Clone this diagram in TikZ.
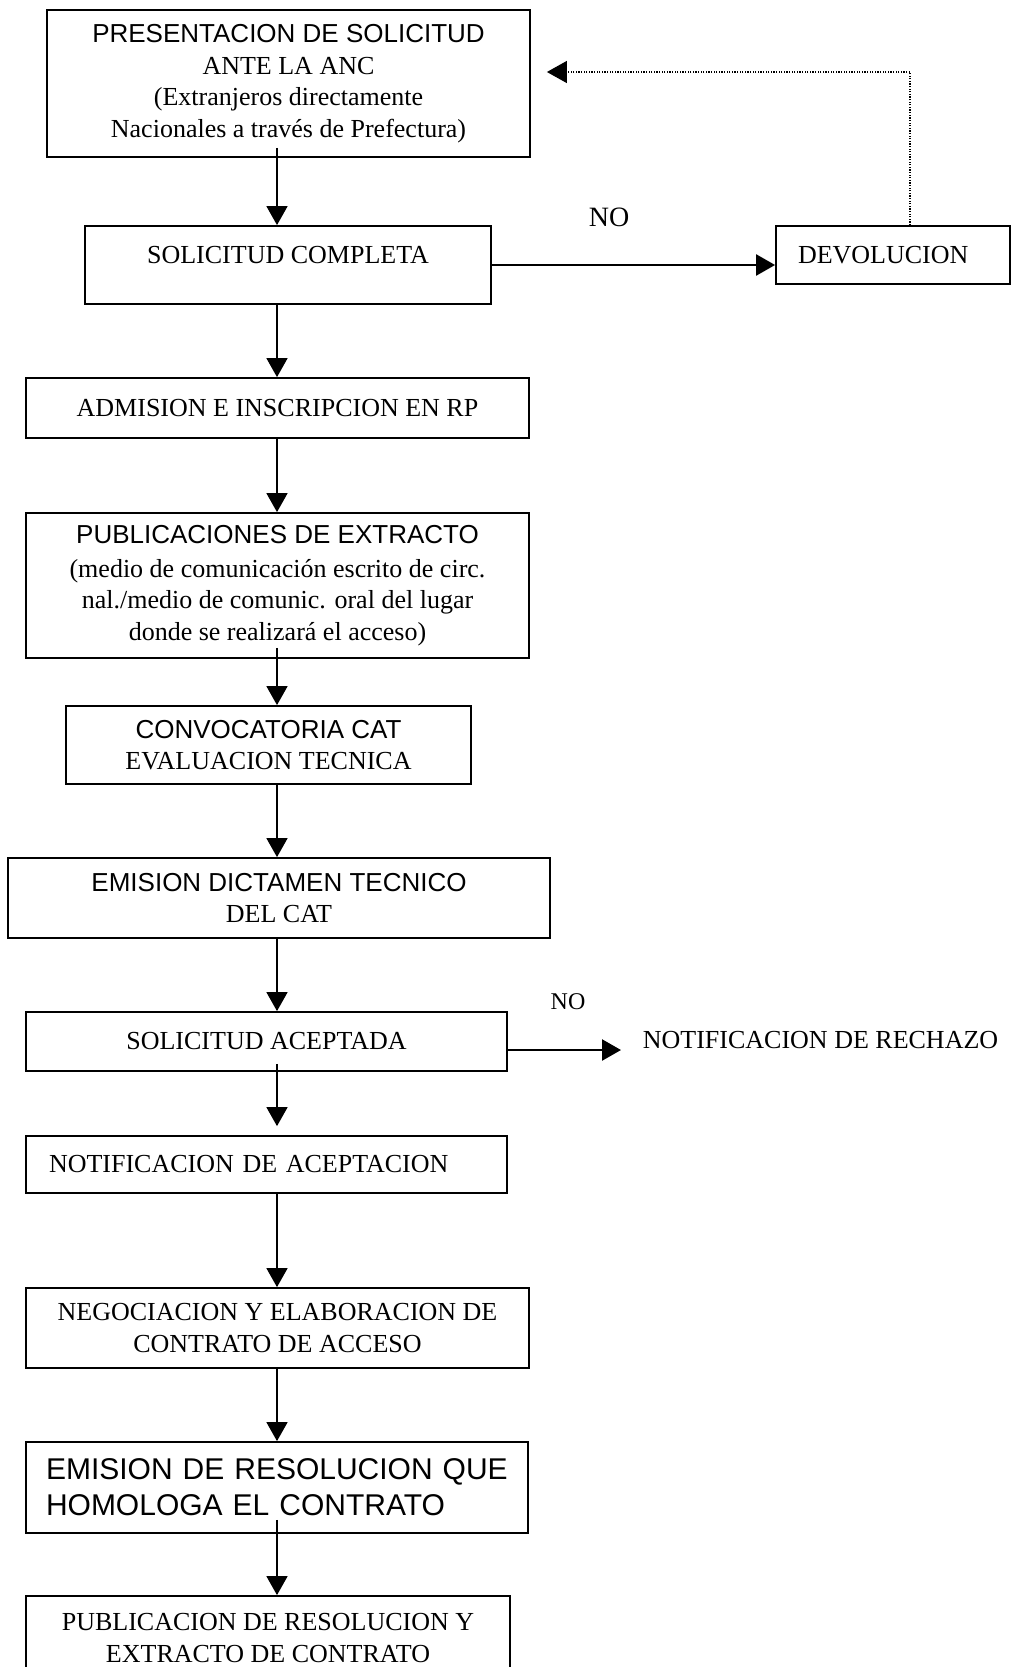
\documentclass[tikz,border=0pt]{standalone}
\usepackage{fontspec}
\setmainfont{Liberation Serif}
\setsansfont{Liberation Sans}
\usetikzlibrary{arrows.meta}

\begin{document}
\begin{tikzpicture}[x=1pt, y=-1pt,
                    box/.style={draw, line width=1.8pt, rectangle, inner sep=0pt, align=center,
                                font=\fontsize{26}{31.5}\selectfont},
                    flow/.style={line width=1.6pt, -{Triangle[length=19pt,width=21pt]}},
                    side/.style={flow, line width=2.4pt},
                    back/.style={line width=1.2pt, dash pattern=on 1.2pt off 1.4pt,
                                 -{Triangle[length=20pt,width=22pt]}}]
  \def\sfline#1{{\sffamily #1}}

  \path[use as bounding box, clip] (0,0) rectangle (1015,1667);
  \coordinate (spine) at (277,0); % x of the downward arrows

  % main column
  \node[box, minimum width=483pt, minimum height=147pt] (pres) at (288.5,83.5)
    {\sfline{PRESENTACION DE SOLICITUD}\\ANTE LA ANC\\(Extranjeros directamente\\Nacionales a través de Prefectura)};
  \node[box, minimum width=406pt, minimum height=78pt, text depth=20pt] (comp) at (288,265)
    {SOLICITUD COMPLETA};
  \node[box, minimum width=503pt, minimum height=60pt] (adm) at (277.5,408)
    {ADMISION E INSCRIPCION EN RP};
  \node[box, minimum width=503pt, minimum height=145pt] (publ) at (277.5,585.5)
    {\sfline{PUBLICACIONES DE EXTRACTO}\\[2pt](medio de comunicación escrito de circ.\\nal./medio de comunic. oral del lugar\\donde se realizará el acceso)};
  \node[box, minimum width=405pt, minimum height=78pt] (conv) at (268.5,745)
    {\sfline{CONVOCATORIA CAT}\\EVALUACION TECNICA};
  \node[box, minimum width=542pt, minimum height=80pt] (dict) at (279,898)
    {\sfline{EMISION DICTAMEN TECNICO}\\DEL CAT};
  \node[box, minimum width=481pt, minimum height=59pt] (acep) at (266.5,1041.5)
    {SOLICITUD ACEPTADA};
  \node[box, minimum width=481pt, minimum height=57pt, text width=435pt, inner xsep=23pt, align=left]
    (noti) at (266.5,1164.5) {NOTIFICACION DE ACEPTACION};
  \node[box, minimum width=503pt, minimum height=80pt] (nego) at (277.5,1328)
    {NEGOCIACION Y ELABORACION DE\\CONTRATO DE ACCESO};
  \node[box, minimum width=502pt, minimum height=91pt, text width=462pt, inner xsep=20pt, align=left,
        font=\sffamily\fontsize{30}{36}\selectfont] (reso) at (277,1487.5)
    {\makebox[454pt][s]{EMISION DE RESOLUCION QUE}\\HOMOLOGA EL CONTRATO};
  \node[box, minimum width=484pt, minimum height=84pt] (fin) at (268,1638)
    {PUBLICACION DE RESOLUCION Y\\EXTRACTO DE CONTRATO};

  % side branches
  \node[box, minimum width=234pt, minimum height=58pt, text width=190pt, inner xsep=22pt, align=left]
    (devo) at (893,255) {DEVOLUCION};
  \node[box, draw=none, anchor=west] (rech) at (642,1040) {NOTIFICACION DE RECHAZO};
  \node[font=\fontsize{28}{28}\selectfont, inner sep=0pt] (no1) at (609,217) {NO};
  \node[font=\fontsize{24}{24}\selectfont, inner sep=0pt] (no2) at (568,1002) {NO};

  % downward arrows (start / end offsets in pt)
  \foreach \a/\b/\s/\e in {pres/comp/10pt/0pt, comp/adm/0pt/0pt, adm/publ/0pt/0pt,
                           publ/conv/11pt/0pt, conv/dict/0pt/0pt, dict/acep/0pt/0pt,
                           acep/noti/8pt/9pt, noti/nego/0pt/0pt, nego/reso/0pt/0pt,
                           reso/fin/14pt/0pt}{
    \draw[flow, shorten <=-\s, shorten >=\e] (\a.south -| spine) -- (\b.north -| spine);
  }

  % NO branches
  \draw[side] (comp.east) -- (comp.east -| devo.west);
  \coordinate (acepout) at ([yshift=-8.5pt]acep.east);
  \draw[side, shorten >=21pt] (acepout) -- (acepout -| rech.west);

  % return path
  \coordinate (retn) at ([xshift=17pt]devo.north);
  \draw[back] (retn) |- ([xshift=16pt, yshift=11.5pt]pres.east);
\end{tikzpicture}
\end{document}
